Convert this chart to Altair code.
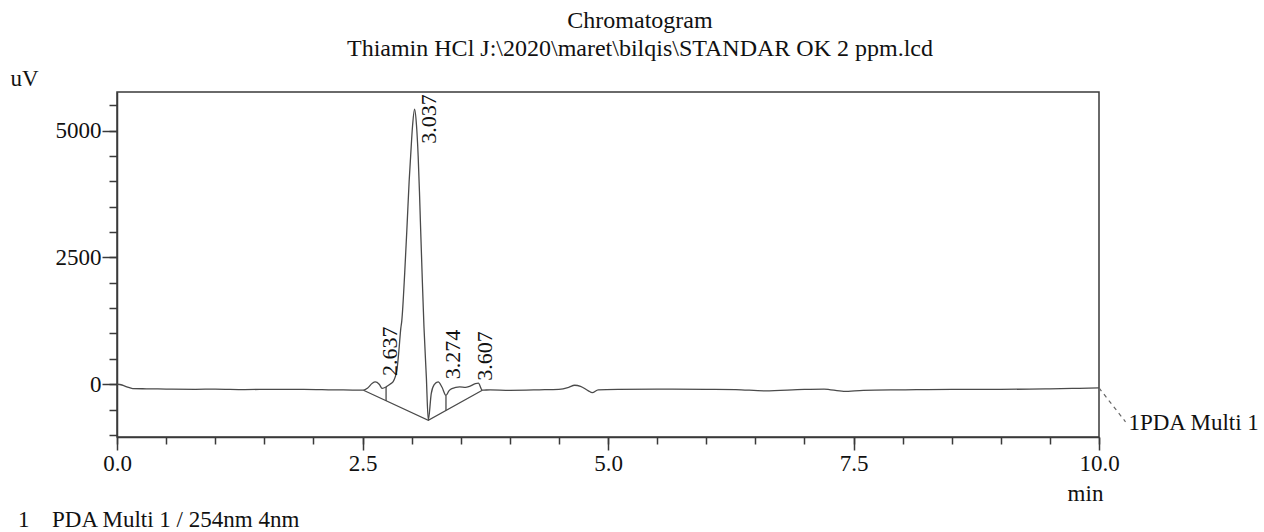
import altair as alt
import pandas as pd

# ---------------- data ----------------
time = [0.00, 0.05, 0.10, 0.16, 0.30, 0.50, 0.80, 1.00, 1.30, 1.60, 1.90, 2.20, 2.40, 2.51,
        2.55, 2.60, 2.63, 2.67, 2.70, 2.74, 2.78, 2.81, 2.85, 2.87, 2.89, 2.90, 2.93, 2.955,
        2.975, 2.99, 3.01, 3.03, 3.05, 3.067, 3.08, 3.09, 3.11, 3.126, 3.15, 3.17,
        3.20, 3.23, 3.27, 3.31, 3.35, 3.38, 3.41, 3.49, 3.55, 3.59, 3.65, 3.68, 3.72,
        3.80, 4.00, 4.30, 4.50, 4.60, 4.66, 4.72, 4.80, 4.84, 4.90, 5.10, 5.50, 6.00,
        6.30, 6.60, 7.00, 7.20, 7.40, 7.60, 8.00, 8.50, 9.00, 9.50, 9.80, 10.00]
signal = [0, -15, -50, -85, -90, -95, -100, -95, -105, -100, -100, -110, -115, -118,
          -80, 20, 45, 0, -80, -53, 0, 45, 276, 650, 1100, 1250, 2200, 3180,
          4000, 4490, 5100, 5420, 5100, 4490, 3800, 3180, 2000, 1130, 150, -711,
          -184, -10, 45, -60, -220, -130, -86, -53, -60, -40, 10, 20, -118,
          -110, -120, -110, -100, -60, -20, -40, -130, -165, -110, -100, -95, -100,
          -105, -130, -100, -95, -140, -120, -110, -100, -100, -90, -80, -73]

# integration baseline (drawn by the data system)
base_t = [2.51, 3.17, 3.72]
base_v = [-118, -711, -118]

# peak separation drop lines
drop_t = [2.74, 3.35]
drop_top = [-53, -220]
drop_bottom = [-330, -517]

# retention-time labels
peak_rt = [2.637, 3.037, 3.274, 3.607]
peak_lab = ["2.637", "3.037", "3.274", "3.607"]
peak_label_y = [160, 4740, 100, 70]

# channel marker
chan_t = [10.0, 10.27]
chan_v = [-73, -740]
chan_label = ["1PDA Multi 1"]
chan_label_t = [10.3]
chan_label_v = [-770]

# axis ticks
x_minor_ticks = [0.0, 0.5, 1.0, 1.5, 2.0, 2.5, 3.0, 3.5, 4.0, 4.5, 5.0, 5.5, 6.0, 6.5,
                 7.0, 7.5, 8.0, 8.5, 9.0, 9.5, 10.0]
x_major_ticks = [0.0, 2.5, 5.0, 7.5, 10.0]
y_minor_ticks = [-1000, -500, 0, 500, 1000, 1500, 2000, 2500, 3000, 3500, 4000, 4500,
                 5000, 5500]
y_major_ticks = [0, 2500, 5000]

title_lines = ["Chromatogram",
               "Thiamin HCl J:\\2020\\maret\\bilqis\\STANDAR OK 2  ppm.lcd"]

# ---------------- chart ----------------
FONT = "Liberation Serif"
FS = 23
AX = "#3a3a3a"
LINE = "#4a4a4a"
TXT = "#111"

df = pd.DataFrame({"t": time, "v": signal})
dfb = pd.DataFrame({"t": base_t, "v": base_v})
dfd = pd.DataFrame({"t": drop_t, "top": drop_top, "bot": drop_bottom})
dfl = pd.DataFrame({"t": peak_rt, "v": peak_label_y, "lab": peak_lab})
dfc = pd.DataFrame({"t": chan_t, "v": chan_v})
dfcl = pd.DataFrame({"t": chan_label_t, "v": chan_label_v, "lab": chan_label})

xs = alt.Scale(domain=[0, 10], nice=False, zero=False)
ys = alt.Scale(domain=[-1040, 5760], nice=False, zero=False)

x_minor = alt.Axis(orient="bottom", values=x_minor_ticks, labels=False, tickSize=7,
                   domain=True, domainColor=AX, domainWidth=1.5, tickColor=AX,
                   tickWidth=1.5, grid=False, title=None)
x_major = alt.Axis(orient="bottom", values=x_major_ticks, format=".1f", tickSize=13,
                   tickColor=AX, tickWidth=1.5, domain=False, grid=False,
                   labelFont=FONT, labelFontSize=FS, labelColor=TXT, labelFlush=False,
                   labelPadding=2, title="min", titleFont=FONT, titleFontSize=FS,
                   titleFontWeight="normal", titleColor=TXT, titleX=968,
                   titleY=63, titleAlign="center", titleBaseline="alphabetic")
y_minor = alt.Axis(orient="left", values=y_minor_ticks, labels=False, tickSize=8,
                   domain=True, domainColor=AX, domainWidth=1.5, tickColor=AX,
                   tickWidth=1.5, grid=False, title=None)
y_major = alt.Axis(orient="left", values=y_major_ticks, format="d", tickSize=15,
                   tickColor=AX, tickWidth=1.5, domain=False, grid=False,
                   labelFont=FONT, labelFontSize=FS, labelColor=TXT, labelFlush=False,
                   labelPadding=1, title="uV", titleFont=FONT, titleFontSize=FS,
                   titleFontWeight="normal", titleColor=TXT, titleAngle=0,
                   titleX=-93, titleY=-7, titleAlign="center",
                   titleBaseline="alphabetic")

sig = alt.Chart(df).mark_line(interpolate="monotone", color=LINE, strokeWidth=1.3).encode(
    x=alt.X("t:Q", scale=xs, axis=x_minor),
    y=alt.Y("v:Q", scale=ys, axis=y_minor),
)
base = alt.Chart(dfb).mark_line(color=LINE, strokeWidth=1.3).encode(
    x=alt.X("t:Q", scale=xs, axis=x_major),
    y=alt.Y("v:Q", scale=ys, axis=y_major),
)
drops = alt.Chart(dfd).mark_rule(color=LINE, strokeWidth=1.3).encode(
    x=alt.X("t:Q", scale=xs, axis=None),
    y=alt.Y("top:Q", scale=ys, axis=None),
    y2="bot:Q",
)
labels = alt.Chart(dfl).mark_text(angle=270, align="left", baseline="middle", dy=14,
                                  font=FONT, fontSize=22, color=TXT).encode(
    x=alt.X("t:Q", scale=xs, axis=None),
    y=alt.Y("v:Q", scale=ys, axis=None),
    text="lab:N",
)
chan = alt.Chart(dfc).mark_line(color="#666", strokeWidth=1.2, strokeDash=[4, 4]).encode(
    x=alt.X("t:Q", scale=xs, axis=None),
    y=alt.Y("v:Q", scale=ys, axis=None),
)
chan_txt = alt.Chart(dfcl).mark_text(align="left", baseline="middle", font=FONT,
                                     fontSize=FS, color=TXT).encode(
    x=alt.X("t:Q", scale=xs, axis=None),
    y=alt.Y("v:Q", scale=ys, axis=None),
    text="lab:N",
)
foot1 = alt.Chart(dfcl).mark_text(align="left", baseline="middle", font=FONT,
                                  fontSize=FS, color=TXT).encode(
    x=alt.value(-99), y=alt.value(428), text=alt.value("1"))
foot2 = alt.Chart(dfcl).mark_text(align="left", baseline="middle", font=FONT,
                                  fontSize=FS, color=TXT).encode(
    x=alt.value(-65), y=alt.value(428), text=alt.value("PDA Multi 1 / 254nm 4nm"))

chart = alt.layer(sig, base, drops, labels, chan, chan_txt, foot1, foot2).resolve_axis(
    x="independent", y="independent"
).properties(
    width=982,
    height=345,
    autosize=alt.AutoSizeParams(type="none"),
    padding={"left": 117, "top": 92, "right": 165, "bottom": 95},
    background="white",
    title=alt.TitleParams(text=title_lines, font=FONT, fontSize=24, fontWeight="normal",
                          color=TXT, anchor="middle", frame="group", dx=32,
                          offset=6, lineHeight=28),
).configure_view(stroke=AX, strokeWidth=1.5)

chart.save("out.html", embed_options={"renderer": "svg", "actions": False})
